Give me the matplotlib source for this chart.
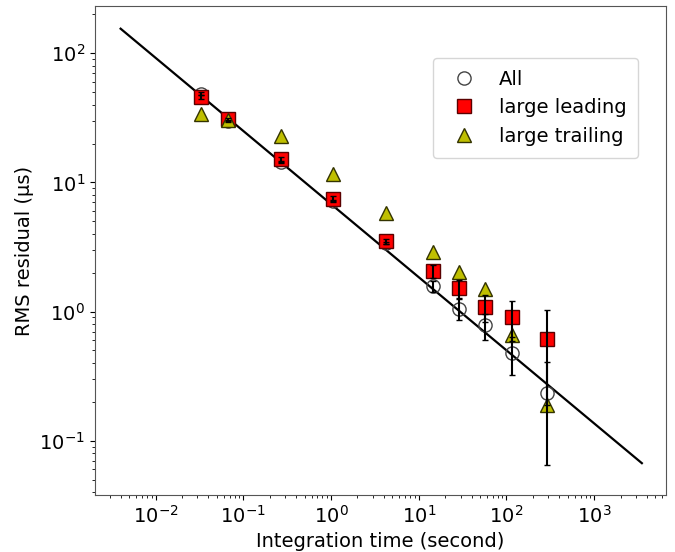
import matplotlib
matplotlib.use('Agg')
import matplotlib.pyplot as plt
from matplotlib.ticker import NullFormatter

# integration times (s) and RMS residuals (us)
t_int = [1/30, 2/30, 8/30, 32/30, 128/30, 14.4, 28.8, 57.6, 115, 290]

rms_all = [48.7, 29.9, 14.4, 7.2, 3.4, 1.58, 1.05, 0.78, 0.48, 0.235]
err_all = [1.0, 0.6, 0.3, 0.15, 0.08, 0.15, 0.19, 0.18, 0.16, 0.17]

rms_lead = [46.0, 30.8, 15.1, 7.5, 3.5, 2.07, 1.51, 1.09, 0.90, 0.61]
err_lead = [1.5, 1.0, 0.6, 0.3, 0.15, 0.24, 0.24, 0.26, 0.31, 0.42]

rms_trail = [33.7, 30.3, 22.9, 11.7, 5.8, 2.89, 2.03, 1.50, 0.66, 0.19]

# power-law fit, end points
fit_t = [4.0e-3, 3.5e3]
fit_rms = [155.0, 0.067]

x_major = [1e-2, 1e-1, 1e0, 1e1, 1e2, 1e3]
y_major = [1e-1, 1e0, 1e1, 1e2]

fig = plt.figure(figsize=(6.75, 5.52), dpi=100)
ax = fig.add_axes([0.1407, 0.1033, 0.846, 0.8857])

ax.plot(fit_t, fit_rms, color='k', lw=1.6, zorder=2)

ax.plot(t_int, rms_all, 'o', ms=9.5, mfc='none', mec='#444444', mew=1.0,
        label='All', zorder=3)
ax.plot(t_int, rms_lead, 's', ms=10.5, mfc='red', mec='#5a0000', mew=1.0,
        label='large leading', zorder=4)
ax.plot(t_int, rms_trail, '^', ms=10, mfc='#bfbf00', mec='#333300', mew=1.0,
        label='large trailing', zorder=5)

ax.errorbar(t_int, rms_all, yerr=err_all, fmt='none', ecolor='k',
            elinewidth=1.5, capsize=2, zorder=6)
ax.errorbar(t_int, rms_lead, yerr=err_lead, fmt='none', ecolor='k',
            elinewidth=1.5, capsize=2, zorder=6)

ax.set_xscale('log')
ax.set_yscale('log')
ax.set_xticks(x_major)
ax.set_yticks(y_major)
ax.set_xlim(2.04e-3, 6.6e3)
ax.set_ylim(0.038, 232)
ax.xaxis.set_minor_formatter(NullFormatter())
ax.yaxis.set_minor_formatter(NullFormatter())

ax.set_xlabel('Integration time (second)', fontsize=14)
ax.set_ylabel('RMS residual (μs)', fontsize=14)
ax.tick_params(labelsize=14)
for s in ax.spines.values():
    s.set_color('#555555')

ax.legend(loc='upper right', bbox_to_anchor=(0.951, 0.894), fontsize=14,
          borderaxespad=0, handletextpad=0.8, borderpad=0.6, labelspacing=0.5)

fig.savefig('out.png', dpi=100)
